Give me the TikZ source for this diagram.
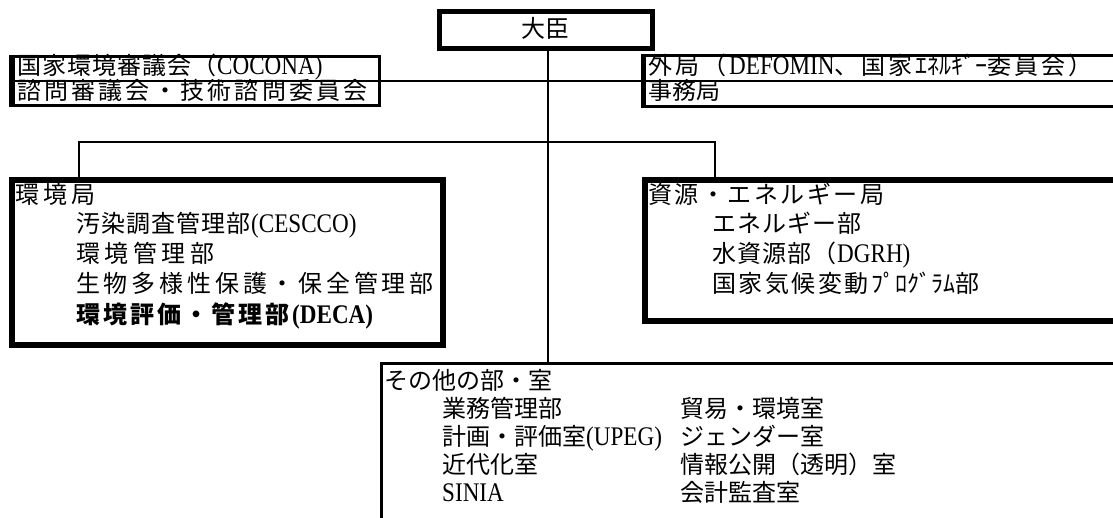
\documentclass[tikz,border=0pt]{standalone}
\usepackage{fontspec}
\setmainfont{Noto Sans CJK JP}
\newfontfamily\en[Scale=1.12,FakeStretch=0.86]{Liberation Serif}
\makeatletter
\def\lsp#1#2{\begingroup\def\lsp@k{#1}\lsp@a#2\lsp@end\endgroup}
\def\lsp@end{\lsp@end}
\def\lsp@a#1{\ifx#1\lsp@end\else#1\kern\lsp@k\relax\expandafter\lsp@a\fi}
\makeatother
\begin{document}
\begin{tikzpicture}[x=1pt,y=-1pt,
  box/.style={draw, rectangle, anchor=north west, inner sep=0pt},
  lbl/.style={anchor=west, inner sep=0pt, text height=20pt, text depth=4pt, font=\fontsize{24}{28}\selectfont},
  conn/.style={line width=2.6pt}]
\useasboundingbox (0,0) rectangle (1113,518);
\clip (0,0) rectangle (1113,518);
\fill[white] (0,0) rectangle (1113,518);
% boxes
\node[box, line width=5pt, minimum width=213pt, minimum height=37pt] (minister) at (437,9) {};
\node[box, line width=3pt, minimum width=366pt, minimum height=49pt] (council) at (12,55) {};
\node[box, line width=3pt, minimum width=500pt, minimum height=51pt] (gaikyoku) at (643,54) {};
\node[box, line width=6pt, minimum width=431pt, minimum height=165pt] (kankyo) at (9,177) {};
\node[box, line width=6pt, minimum width=500pt, minimum height=141pt] (shigen) at (642,177) {};
\node[box, line width=2.5pt, minimum width=800pt, minimum height=180pt] (others) at (380,362) {};
% thick left edges and row dividers
\draw[line width=6pt] (council.north west) -- (council.south west);
\draw[line width=4pt] (gaikyoku.north west) -- (gaikyoku.south west);
\draw[line width=1.5pt] (council.west) -- (council.east);
\draw[line width=1.5pt] (gaikyoku.west) -- (gaikyoku.east);
% connectors
\coordinate (sp) at (548,0);
\coordinate (bl) at (79,142);
\coordinate (br) at (715,142);
\draw[conn] (minister.south -| sp) -- (others.north -| sp);
\draw[line width=2pt] (council.east) -- (gaikyoku.west);
\draw[conn] (kankyo.north -| bl) -- (bl) -- (br) -- (shigen.north -| br);
% texts
\node[lbl, anchor=center] (tmin) at (minister.center) {\lsp{1pt}{大臣}};
\node[lbl] (c1) at (17,67) {\lsp{1pt}{国家環境審議会（}{\en COCONA)}};
\node[lbl] (c2) at (17,92) {\lsp{3.2pt}{諮問審議会・技術諮問委員会}};
\node[lbl] (g1) at (648,67) {\lsp{3pt}{外局（}{\en DEFOMIN}\lsp{3pt}{、国家}ｴﾈﾙｷﾞｰ\lsp{3pt}{委員会）}};
\node[lbl] (g2) at (648,92) {事務局};
\node[lbl] (k0) at (15,196) {\lsp{4pt}{環境局}};
\node[lbl] (k1) at (76,225) {\lsp{1pt}{汚染調査管理部}{\en (CESCCO)}};
\node[lbl] (k2) at (76,255) {\lsp{4.5pt}{環境管理部}};
\node[lbl] (k3) at (76,285) {\lsp{3.8pt}{生物多様性保護・保全管理部}};
\node[lbl] (k4) at (76,316) {\bfseries\lsp{3pt}{環境評価・管理部}{\en (DECA)}};
\node[lbl] (s0) at (648,196) {\lsp{2.5pt}{資源・エネルギー局}};
\node[lbl] (s1) at (712,225) {\lsp{1pt}{エネルギー部}};
\node[lbl] (s2) at (712,255) {\lsp{1pt}{水資源部（}{\en DGRH)}};
\node[lbl] (s3) at (712,285) {\lsp{2.5pt}{国家気候変動}ﾌﾟﾛｸﾞﾗﾑ部};
\node[lbl] (o0) at (384,381) {その他の部・室};
\node[lbl] (o1) at (442,409) {業務管理部};
\node[lbl] (o2) at (442,437) {計画・評価室{\en (UPEG)}};
\node[lbl] (o3) at (442,465) {近代化室};
\node[lbl] (o4) at (442,493) {{\en SINIA}};
\node[lbl] (o5) at (680,409) {貿易・環境室};
\node[lbl] (o6) at (680,437) {ジェンダー室};
\node[lbl] (o7) at (680,465) {情報公開（透明）室};
\node[lbl] (o8) at (680,493) {会計監査室};
\end{tikzpicture}
\end{document}
